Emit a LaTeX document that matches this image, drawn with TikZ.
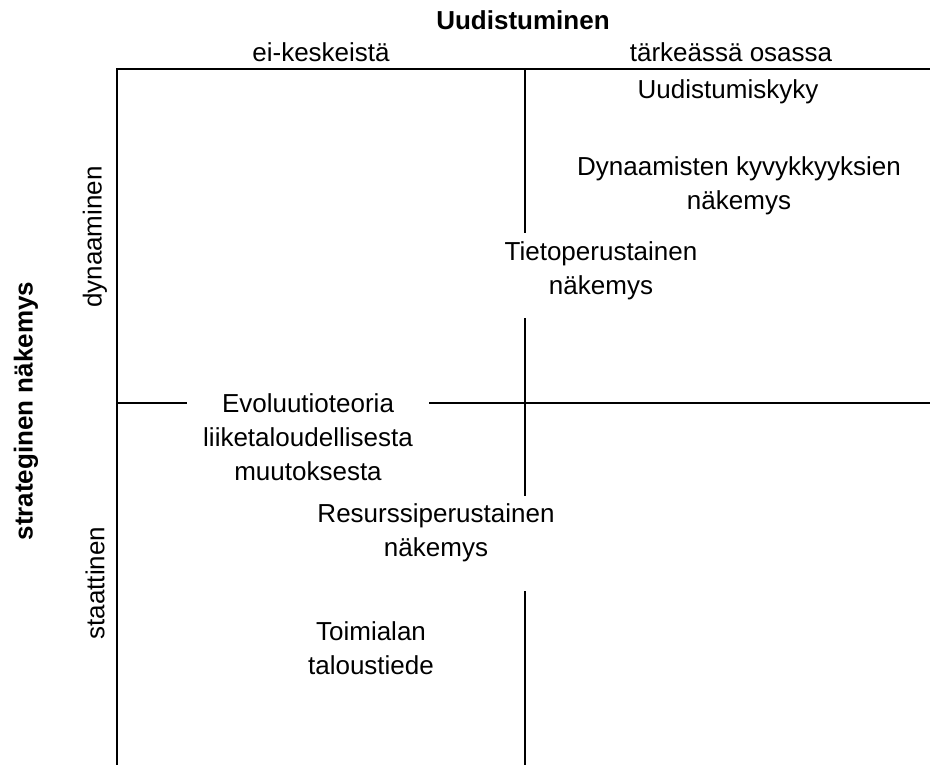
\documentclass[tikz,border=0pt]{standalone}
\usepackage{fontspec}
\setmainfont{Liberation Sans}
\begin{document}
\begin{tikzpicture}[x=1pt,y=-1pt,
  lbl/.style={font=\fontsize{26}{34}\selectfont, align=center, inner sep=0pt},
  ttl/.style={lbl, font=\fontsize{26}{34}\selectfont\bfseries},
  ax/.style={line width=1.8pt, line cap=rect}]
\useasboundingbox (0,0) rectangle (930,764);
% frame coordinates
\coordinate (tl) at (117,69);
\coordinate (tr) at (930,69);
\coordinate (bl) at (117,764);
\coordinate (m1a) at (525,69);
\coordinate (m1b) at (525,232);
\coordinate (m2a) at (525,319);
\coordinate (m2b) at (525,495);
\coordinate (m3a) at (525,592);
\coordinate (m3b) at (525,764);
\coordinate (h1a) at (117,403);
\coordinate (h1b) at (186,403);
\coordinate (h2a) at (430,403);
\coordinate (h2b) at (930,403);
\draw[ax] (tl) -- (tr);
\draw[ax] (tl) -- (bl);
\draw[ax] (m1a) -- (m1b);
\draw[ax] (m2a) -- (m2b);
\draw[ax] (m3a) -- (m3b);
\draw[ax] (h1a) -- (h1b);
\draw[ax] (h2a) -- (h2b);
% headers
\node[ttl] (uud) at (523,20) {Uudistuminen};
\node[lbl] (eik) at (321,52.5) {ei-keskeistä};
\node[lbl] (tar) at (731,52.5) {tärkeässä osassa};
\node[ttl, rotate=90] (stra) at (26,411) {strateginen näkemys};
\node[lbl, rotate=90] (dyn) at (95,237) {dynaaminen};
\node[lbl, rotate=90] (sta) at (95,583) {staattinen};
% content
\node[lbl] (uky) at (728,92) {Uudistumiskyky};
\node[lbl] (dkn) at (739,186) {Dynaamisten kyvykkyyksien\\näkemys};
\node[lbl] (tpn) at (601,271) {Tietoperustainen\\näkemys};
\node[lbl] (evo) at (308,437) {Evoluutioteoria\\liiketaloudellisesta\\muutoksesta};
\node[lbl] (rpn) at (436,533) {Resurssiperustainen\\näkemys};
\node[lbl] (toi) at (371,648) {Toimialan\\taloustiede};
\end{tikzpicture}
\end{document}
